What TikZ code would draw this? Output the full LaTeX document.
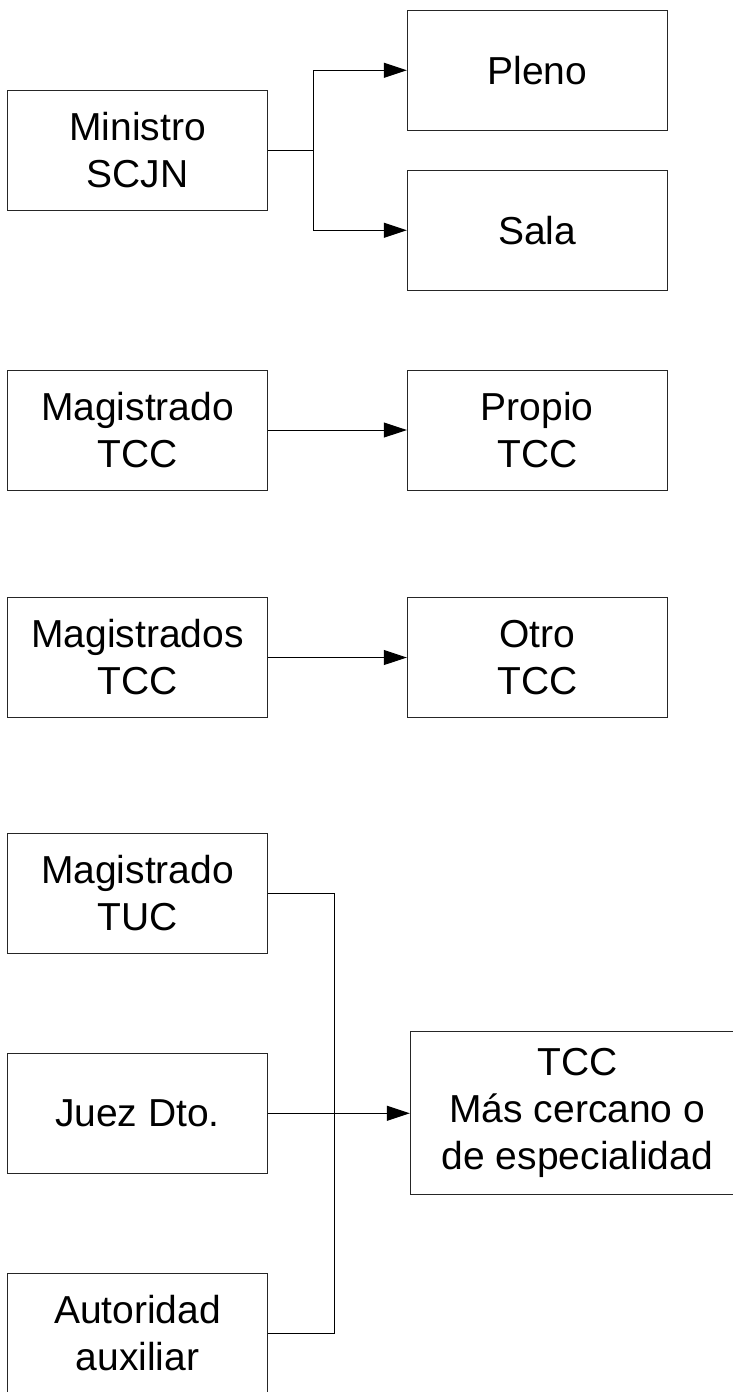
\documentclass[tikz,border=0pt]{standalone}
\usepackage{fontspec}
\setmainfont{Liberation Sans}
\usetikzlibrary{arrows.meta}

\tikzset{
    caja/.style={draw=black!85, line width=1pt, minimum width=260pt, minimum height=120pt,
        inner sep=0pt, align=center, font=\fontsize{39}{47}\selectfont},
    flecha/.style={line width=1pt, -{Triangle[length=23pt,width=15pt]}},
    linea/.style={line width=1pt}
}

\begin{document}
\begin{tikzpicture}[x=1pt,y=-1pt]
    \useasboundingbox (0,0) rectangle (733,1392);

    % ministro
    \node[caja] (ministro) at (137.5,150) {Ministro\\SCJN};
    \node[caja] (pleno) at (537.3,70.3) {Pleno};
    \node[caja] (sala) at (537.3,230.3) {Sala};

    % magistrado
    \node[caja] (magtcc) at (137.5,430) {Magistrado\\TCC};
    \node[caja] (propio) at (537.3,430) {Propio\\TCC};

    % magistrados
    \node[caja] (magstcc) at (137.5,657.5) {Magistrados\\TCC};
    \node[caja] (otro) at (537.3,657.5) {Otro\\TCC};

    % magistrado tuc, juez y autoridad
    \node[caja] (magtuc) at (137.5,893.3) {Magistrado\\TUC};
    \node[caja] (juez) at (137.5,1113.3) {Juez Dto.};
    \node[caja] (auxiliar) at (137.5,1333.3) {Autoridad\\auxiliar};
    \node[caja, minimum width=334pt, minimum height=163.3pt] (cercano) at (577.3,1113.3)
        {TCC\\Más cercano o\\de especialidad};

    % draw arrows
    \coordinate (ramaA) at (313,150);
    \draw[linea] (ministro.east) -- (ramaA);
    \draw[flecha] (ramaA) |- (pleno.west);
    \draw[flecha] (ramaA) |- (sala.west);

    \draw[flecha] (magtcc.east) -- (propio.west);
    \draw[flecha] (magstcc.east) -- (otro.west);

    \coordinate (ramaB) at (334.3,893.3);
    \draw[linea] (magtuc.east) -- (ramaB) |- (auxiliar.east);
    \draw[flecha] (juez.east) -- (cercano.west);
\end{tikzpicture}
\end{document}
